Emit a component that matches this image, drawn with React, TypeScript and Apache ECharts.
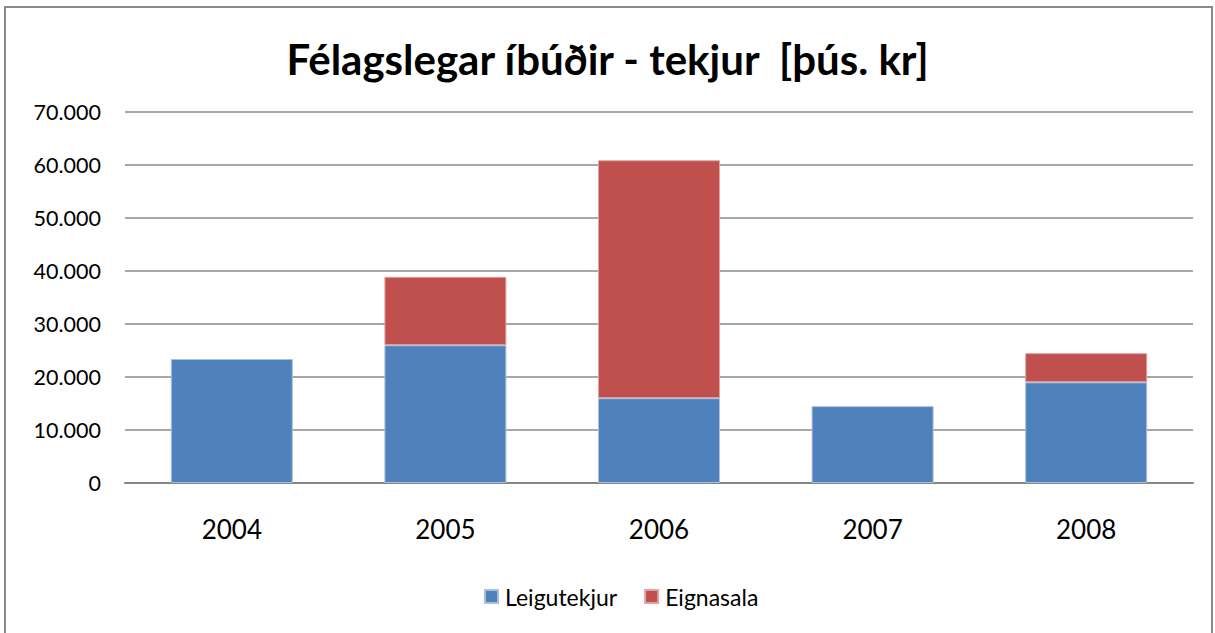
import React, { useEffect, useRef } from "react";
import * as echarts from "echarts";

const title = "Félagslegar íbúðir - tekjur  [þús. kr]";
const categories = ["2004", "2005", "2006", "2007", "2008"];
const leigutekjur = [23400, 26000, 16000, 14500, 19000];
const eignasala = [null, 12900, 44900, null, 5500];
const seriesNames = ["Leigutekjur", "Eignasala"];
const colors = ["#4F81BD", "#C0504D"];

const FONT = "Lato, 'Open Sans', sans-serif";

function fmt(v: number): string {
  return String(v).replace(/\B(?=(\d{3})+(?!\d))/g, ".");
}

export default function App() {
  const ref = useRef<HTMLDivElement>(null);
  useEffect(() => {
    if (!ref.current) return;
    const chart = echarts.init(ref.current, null, { renderer: "svg" });
    chart.setOption({
      animation: false,
      backgroundColor: "#ffffff",
      textStyle: { fontFamily: FONT },
      title: {
        text: title,
        left: "center",
        top: 33,
        textStyle: { fontSize: 42, fontWeight: "bold", color: "#000", fontFamily: FONT },
      },
      graphic: [
        {
          type: "rect",
          shape: { x: 5, y: 7, width: 1207, height: 640 },
          style: { fill: "none", stroke: "#8a8a8a", lineWidth: 2 },
          silent: true,
        },
      ],
      legend: {
        bottom: 20,
        left: 479,
        itemWidth: 13,
        itemHeight: 13,
        itemGap: 27,
        icon: "rect",
        textStyle: { fontSize: 23, color: "#000", fontFamily: FONT, padding: [0, 0, 0, 2] },
        data: seriesNames,
      },
      grid: { left: 125, right: 22, top: 112, bottom: 150, containLabel: false },
      xAxis: {
        type: "category",
        data: categories,
        axisLine: { lineStyle: { color: "#868686", width: 2 } },
        axisTick: { show: false },
        axisLabel: { fontSize: 26, color: "#000", margin: 33, fontFamily: FONT },
      },
      yAxis: {
        type: "value",
        min: 0,
        max: 70000,
        interval: 10000,
        axisLine: { show: false },
        axisTick: { show: false },
        splitLine: { lineStyle: { color: "#8a8a8a", width: 1.5 } },
        axisLabel: {
          fontSize: 21.5,
          color: "#000",
          margin: 24,
          fontFamily: FONT,
          formatter: (v: number) => fmt(v),
        },
      },
      series: [
        {
          name: seriesNames[0],
          type: "bar",
          stack: "total",
          data: leigutekjur,
          barWidth: 122,
          itemStyle: { color: colors[0], borderColor: "#a9c0dd", borderWidth: 1 },
        },
        {
          name: seriesNames[1],
          type: "bar",
          stack: "total",
          data: eignasala,
          barWidth: 122,
          itemStyle: { color: colors[1], borderColor: "#e0a3a1", borderWidth: 1 },
        },
      ],
    });
    return () => chart.dispose();
  }, []);
  return (
    <div
      ref={ref}
      style={{ position: "fixed", left: 0, top: 0, width: 1215, height: 633 }}
    />
  );
}
